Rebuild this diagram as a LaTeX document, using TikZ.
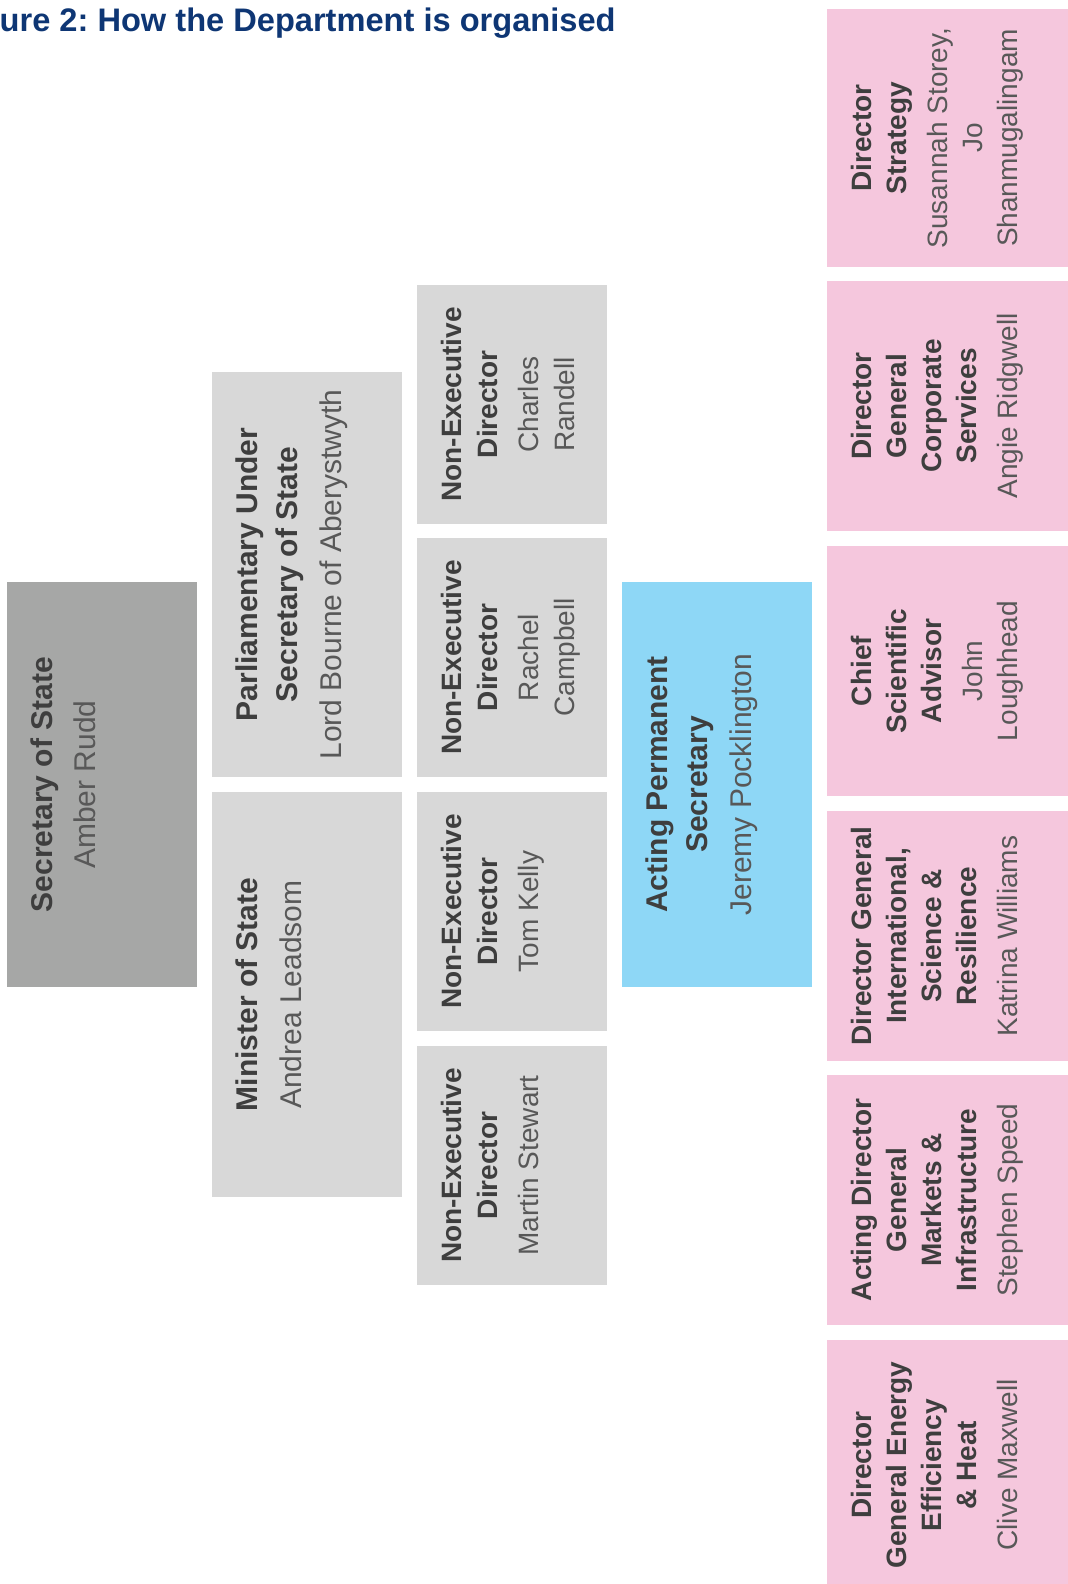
\documentclass[tikz,border=0pt]{standalone}
\usepackage{fontspec}
\setmainfont{Liberation Sans}
\frenchspacing

\definecolor{titleblue}{RGB}{14,54,116}
\definecolor{textgray}{RGB}{62,62,62}
\definecolor{namegray}{RGB}{88,88,88}
\definecolor{topgray}{RGB}{166,167,166}
\definecolor{lightgray}{RGB}{216,216,216}
\definecolor{permblue}{RGB}{142,215,246}
\definecolor{dirpink}{RGB}{245,199,221}

\newlength{\toppad}
\setlength{\toppad}{12pt}
% rotated box contents: #1 length along the text, #2 box thickness
\newcommand{\boxtext}[3]{\begin{minipage}[c][#2][t]{#1}\centering\vspace*{\toppad}#3\end{minipage}}
\newcommand{\orgname}[1]{{\color{namegray}#1}}

\tikzset{
  orgbox/.style={rotate=90, inner sep=0pt, text=textgray},
  topbox/.style={orgbox, fill=topgray, font=\fontsize{15}{20}\selectfont},
  minbox/.style={orgbox, fill=lightgray, font=\fontsize{15}{20}\selectfont},
  nedbox/.style={orgbox, fill=lightgray, font=\fontsize{14}{18}\selectfont},
  permbox/.style={orgbox, fill=permblue, font=\fontsize{15}{20}\selectfont},
  dirbox/.style={orgbox, fill=dirpink, font=\fontsize{14}{17.5}\selectfont}
}

\begin{document}
\begin{tikzpicture}[x=0.5pt, y=-0.5pt]
    \useasboundingbox (0,0) rectangle (1068,1584);
    \clip (0,0) rectangle (1068,1584);

    % Title
    \node[anchor=base east, inner sep=0pt, text=titleblue, font=\fontsize{16.3}{20}\selectfont\bfseries]
        (title) at (616,32) {Figure 2: How the Department is organised};

    % Ministers
    \node[topbox] (sos) at (102,784.5) {\boxtext{202.5pt}{95pt}{\textbf{Secretary of State}\\[1.5pt]\orgname{Amber Rudd}}};
    \node[minbox] (pus) at (307,574.5) {\boxtext{202.5pt}{95pt}{\textbf{Parliamentary Under}\\\textbf{Secretary of State}\\[2pt]\orgname{Lord Bourne of Aberystwyth}}};
    \node[minbox] (mos) at (307,994.5) {\boxtext{202.5pt}{95pt}{\textbf{Minister of State}\\[2pt]\orgname{Andrea Leadsom}}};

    % Non-executive directors
    \node[nedbox] (nedrandell)  at (512,404.5)  {\boxtext{119.5pt}{95pt}{\textbf{Non-Executive}\\\textbf{Director}\\[2.5pt]\orgname{Charles}\\\orgname{Randell}}};
    \node[nedbox] (nedcampbell) at (512,657.5)  {\boxtext{119.5pt}{95pt}{\textbf{Non-Executive}\\\textbf{Director}\\[2.5pt]\orgname{Rachel}\\\orgname{Campbell}}};
    \node[nedbox] (nedkelly)    at (512,911.5)  {\boxtext{119.5pt}{95pt}{\textbf{Non-Executive}\\\textbf{Director}\\[2.5pt]\orgname{Tom Kelly}}};
    \node[nedbox] (nedstewart)  at (512,1165.5) {\boxtext{119.5pt}{95pt}{\textbf{Non-Executive}\\\textbf{Director}\\[2.5pt]\orgname{Martin Stewart}}};

    % Permanent secretary
    \node[permbox] (perm) at (717,784.5) {\boxtext{202.5pt}{95pt}{\textbf{Acting Permanent}\\\textbf{Secretary}\\[2pt]\orgname{Jeremy Pocklington}}};

    % Directors general
    \node[dirbox] (dgstrat)   at (957,138)  {\boxtext{129pt}{130pt}{\textbf{Director}\\\textbf{Strategy}\\[3pt]\orgname{Susannah Storey,}\\\orgname{Jo}\\\orgname{Shanmugalingam}}};
    \node[dirbox] (dgcorp)    at (957,406)  {\boxtext{125pt}{130pt}{\textbf{Director}\\\textbf{General}\\\textbf{Corporate}\\\textbf{Services}\\[3pt]\orgname{Angie Ridgwell}}};
    \node[dirbox] (csa)       at (957,671)  {\boxtext{125pt}{130pt}{\textbf{Chief}\\\textbf{Scientific}\\\textbf{Advisor}\\[3pt]\orgname{John}\\\orgname{Loughhead}}};
    \node[dirbox] (dgint)     at (957,936)  {\boxtext{125pt}{130pt}{\textbf{Director General}\\\textbf{International,}\\\textbf{Science \&}\\\textbf{Resilience}\\[3pt]\orgname{Katrina Williams}}};
    \node[dirbox] (dgmarkets) at (957,1200) {\boxtext{125pt}{130pt}{\textbf{Acting Director}\\\textbf{General}\\\textbf{Markets \&}\\\textbf{Infrastructure}\\[3pt]\orgname{Stephen Speed}}};
    \node[dirbox] (dgenergy)  at (957,1465) {\boxtext{125pt}{130pt}{\textbf{Director}\\\textbf{General Energy}\\\textbf{Efficiency}\\\textbf{\& Heat}\\[3pt]\orgname{Clive Maxwell}}};
\end{tikzpicture}
\end{document}
